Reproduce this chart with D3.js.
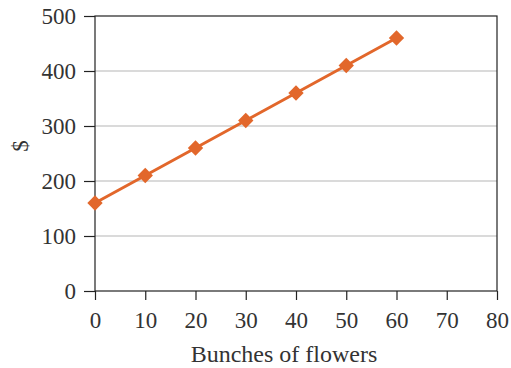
<!DOCTYPE html>
<html>
<head>
<meta charset="utf-8">
<script src="https://cdn.jsdelivr.net/npm/d3@7"></script>
<style>
  body { margin: 0; background: #fff; }
  text { font-family: "Liberation Serif", "DejaVu Serif", serif; fill: #333; }
</style>
</head>
<body>
<div id="chart"></div>
<script>
// Cost of ordering bunches of flowers
const bunches = [0, 10, 20, 30, 40, 50, 60];
const dollars = [160, 210, 260, 310, 360, 410, 460];
const xTicks = [0, 10, 20, 30, 40, 50, 60, 70, 80];
const yTicks = [0, 100, 200, 300, 400, 500];

const width = 511, height = 368;
const margin = { top: 16, right: 14, bottom: 77, left: 95 };
const innerWidth = width - margin.left - margin.right;
const innerHeight = height - margin.top - margin.bottom;

const svg = d3.select("#chart").append("svg")
  .attr("width", width).attr("height", height);
const plot = svg.append("g").attr("transform", `translate(${margin.left},${margin.top})`);

const x = d3.scaleLinear().domain([0, 80]).range([0, innerWidth]);
const y = d3.scaleLinear().domain([0, 500]).range([innerHeight, 0]);

// horizontal grid
plot.append("g").selectAll("line")
  .data(yTicks.filter((d) => d > 0 && d < 500))
  .join("line")
  .attr("x1", 0).attr("x2", innerWidth)
  .attr("y1", (d) => y(d)).attr("y2", (d) => y(d))
  .attr("stroke", "#b5b5b5").attr("stroke-width", 1);

// frame
plot.append("rect")
  .attr("width", innerWidth).attr("height", innerHeight)
  .attr("fill", "none").attr("stroke", "#222").attr("stroke-width", 1.2);

const xAxis = d3.axisBottom(x).tickValues(xTicks).tickSize(9).tickPadding(12);
const yAxis = d3.axisLeft(y).tickValues(yTicks).tickSize(11).tickPadding(8);

const xg = plot.append("g").attr("transform", `translate(0,${innerHeight})`).call(xAxis);
const yg = plot.append("g").call(yAxis);
[xg, yg].forEach((g) => {
  g.attr("font-size", 23).attr("font-family", '"Liberation Serif", serif');
  g.select(".domain").remove();
  g.selectAll("line").attr("stroke", "#222").attr("stroke-width", 1.2);
  g.selectAll("text").attr("fill", "#333");
});
yg.selectAll("text").attr("dy", "0.34em");

// series
const pts = bunches.map((b, i) => ({ b, v: dollars[i] }));
plot.append("path")
  .datum(pts)
  .attr("fill", "none")
  .attr("stroke", "#e2672b")
  .attr("stroke-width", 3)
  .attr("d", d3.line().x((d) => x(d.b)).y((d) => y(d.v)));

plot.append("g").selectAll("path")
  .data(pts)
  .join("path")
  .attr("transform", (d) => `translate(${x(d.b)},${y(d.v)})`)
  .attr("d", d3.symbol(d3.symbolDiamond2, 150)())
  .attr("fill", "#e2672b");

// axis titles
svg.append("text")
  .attr("x", margin.left + innerWidth / 2 - 12).attr("y", 362)
  .attr("text-anchor", "middle").attr("font-size", 24)
  .text("Bunches of flowers");

svg.append("text")
  .attr("transform", `translate(28,146) rotate(-90)`)
  .attr("text-anchor", "middle").attr("font-size", 23)
  .text("$");
</script>
</body>
</html>
